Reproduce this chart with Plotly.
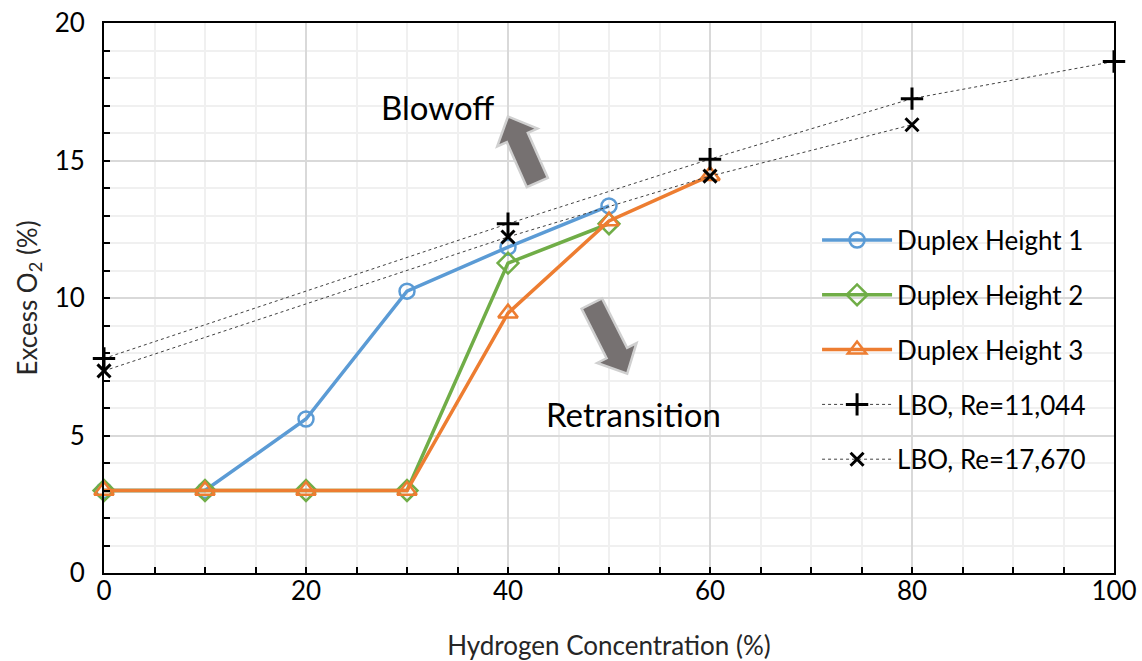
import plotly.graph_objects as go

# Hydrogen concentration (%) and excess O2 (%) for each burner configuration
h2_duplex1 = [0, 10, 20, 30, 40, 50]
o2_duplex1 = [3.0, 3.0, 5.6, 10.25, 11.85, 13.35]

h2_duplex2 = [0, 10, 20, 30, 40, 50]
o2_duplex2 = [3.0, 3.0, 3.0, 3.0, 11.27, 12.7]

h2_duplex3 = [0, 10, 20, 30, 40, 50, 60]
o2_duplex3 = [3.0, 3.0, 3.0, 3.0, 9.45, 12.8, 14.45]

h2_lbo_11044 = [0, 40, 60, 80, 100]
o2_lbo_11044 = [7.8, 12.7, 15.05, 17.25, 18.6]

h2_lbo_17670 = [0, 40, 60, 80]
o2_lbo_17670 = [7.35, 12.22, 14.43, 16.3]

FONT = "Lato"
W, H = 1142, 661
ML, MR, MT, MB = 104, 28, 23, 88
X_RANGE = (0, 100)
Y_RANGE = (0, 20)
KX = (W - ML - MR) / (X_RANGE[1] - X_RANGE[0])   # px per x unit
KY = (H - MT - MB) / (Y_RANGE[1] - Y_RANGE[0])   # px per y unit

fig = go.Figure()

fig.add_trace(go.Scatter(
    x=h2_duplex1, y=o2_duplex1, name="Duplex Height 1", mode="lines+markers",
    line=dict(color="#5B9BD5", width=3.5),
    marker=dict(symbol="circle-open", size=15, color="#5B9BD5", line=dict(width=2.5)),
    legendgroup="g1", cliponaxis=False))
fig.add_trace(go.Scatter(
    x=h2_duplex2, y=o2_duplex2, name="Duplex Height 2", mode="lines+markers",
    line=dict(color="#70AD47", width=3.5),
    marker=dict(symbol="diamond-open", size=16, color="#70AD47", line=dict(width=2.5)),
    legendgroup="g2", cliponaxis=False))
fig.add_trace(go.Scatter(
    x=h2_duplex3, y=o2_duplex3, name="Duplex Height 3", mode="lines+markers",
    line=dict(color="#ED7D31", width=3.5),
    marker=dict(symbol="triangle-up-open", size=17, color="#ED7D31", line=dict(width=2.5)),
    legendgroup="g3", cliponaxis=False))
fig.add_trace(go.Scatter(
    x=h2_lbo_11044, y=o2_lbo_11044, name="LBO, Re=11,044", mode="lines+markers",
    line=dict(color="#404040", width=1, dash="dot"),
    marker=dict(symbol="cross-thin", size=16, color="black", line=dict(width=3, color="black")),
    legendgroup="g4", cliponaxis=False))
fig.add_trace(go.Scatter(
    x=h2_lbo_17670, y=o2_lbo_17670, name="LBO, Re=17,670", mode="lines+markers",
    line=dict(color="#404040", width=1, dash="dot"),
    marker=dict(symbol="x-thin", size=13, color="black", line=dict(width=3, color="black")),
    legendgroup="g5", cliponaxis=False))


def block_arrow(tail, tip, shaft_px, head_w_px, head_l_px):
    """Block arrow polygon as an SVG path in data coordinates."""
    tx, ty = tail[0] * KX, -tail[1] * KY
    px, py = tip[0] * KX, -tip[1] * KY
    dx, dy = px - tx, py - ty
    length = (dx * dx + dy * dy) ** 0.5
    ux, uy = dx / length, dy / length
    nx, ny = -uy, ux
    bx, by = px - ux * head_l_px, py - uy * head_l_px
    pts = [
        (tx + nx * shaft_px / 2, ty + ny * shaft_px / 2),
        (bx + nx * shaft_px / 2, by + ny * shaft_px / 2),
        (bx + nx * head_w_px / 2, by + ny * head_w_px / 2),
        (px, py),
        (bx - nx * head_w_px / 2, by - ny * head_w_px / 2),
        (bx - nx * shaft_px / 2, by - ny * shaft_px / 2),
        (tx - nx * shaft_px / 2, ty - ny * shaft_px / 2),
    ]
    d = "M " + " L ".join(f"{x / KX:.4f},{-y / KY:.4f}" for x, y in pts) + " Z"
    return d


for tail, tip in [((42.9, 14.2), (40.0, 16.6)), ((48.3, 9.8), (51.8, 7.25))]:
    fig.add_shape(type="path", path=block_arrow(tail, tip, 23, 44, 23),
                  xref="x", yref="y", fillcolor="#767171",
                  line=dict(color="#D0D0D0", width=2.5), layer="above")

fig.add_annotation(x=33.0, y=16.93, text="Blowoff", showarrow=False,
                   font=dict(family=FONT, size=33, color="black"))
fig.add_annotation(x=52.4, y=5.8, text="Retransition", showarrow=False,
                   font=dict(family=FONT, size=33, color="black"))

axis_common = dict(
    showline=True, linecolor="black", linewidth=2, mirror=True,
    ticks="inside", ticklen=6, tickwidth=1.5, tickcolor="black",
    showgrid=True, gridcolor="#D9D9D9", gridwidth=1.5,
    zeroline=False, automargin=False,
    tickfont=dict(family=FONT, size=26, color="black"),
)

fig.update_xaxes(
    range=list(X_RANGE), dtick=20, tick0=0, ticklabelstandoff=-6,
    minor=dict(dtick=5, showgrid=True, gridcolor="#F0F0F0", gridwidth=1.5,
               ticks="inside", ticklen=6, tickcolor="black"),
    title=dict(text="Hydrogen Concentration (%)", font=dict(family=FONT, size=26, color="#262626"),
               standoff=32),
    **axis_common)
fig.update_yaxes(
    range=list(Y_RANGE), dtick=5, tick0=0, ticklabelstandoff=12,
    minor=dict(dtick=1, showgrid=True, gridcolor="#F0F0F0", gridwidth=1.5,
               ticks="inside", ticklen=6, tickcolor="black"),
    title=dict(text="Excess O<sub>2</sub> (%)", font=dict(family=FONT, size=26, color="#262626"),
               standoff=10),
    **axis_common)

fig.update_layout(
    width=W, height=H,
    margin=dict(l=ML, r=MR, t=MT, b=MB, pad=0),
    paper_bgcolor="white", plot_bgcolor="white",
    font=dict(family=FONT, color="black"),
    showlegend=True,
    legend=dict(
        x=0.706, y=0.648, xanchor="left", yanchor="top",
        bgcolor="rgba(0,0,0,0)", borderwidth=0,
        font=dict(family=FONT, size=26, color="black"),
        itemwidth=70, traceorder="grouped", tracegroupgap=18,
    ),
)

fig.write_html("out.html")
